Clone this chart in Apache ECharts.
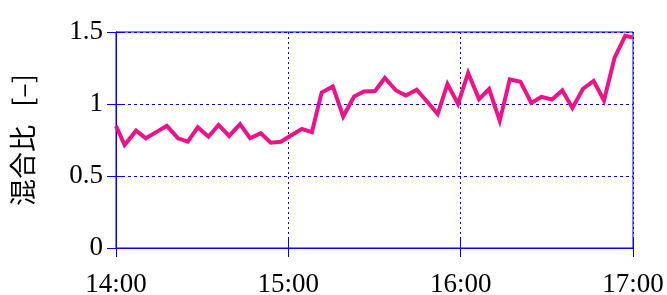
<!DOCTYPE html>
<html>
<head>
	<meta charset="UTF-8">
	<title>混合比</title>
	<script src="https://cdn.jsdelivr.net/npm/echarts@6/dist/echarts.min.js"></script>
	<style>
		html, body { margin: 0; padding: 0; background: #fff; }
		#main { width: 667px; height: 295px; }
	</style>
</head>
<body>
<div id="main"></div>
<script>
	// minutes after 14:00
	var minutes = [0, 3.0, 7.0, 10.4, 14.3, 17.7, 21.6, 25.0, 28.5, 32.2,
		35.7, 39.4, 43.2, 46.7, 50.4, 53.9, 57.4, 61.2, 64.7, 68.2,
		71.6, 75.5, 79.1, 82.9, 86.3, 90.2, 93.6, 97.5, 100.9, 104.7,
		108.3, 112.0, 115.4, 119.1, 122.6, 126.4, 129.9, 133.6, 137.1, 140.8,
		144.6, 148.1, 151.8, 155.4, 158.9, 162.6, 166.3, 169.9, 173.6, 177.3, 180];
	var ratio = [0.848, 0.715, 0.815, 0.762, 0.808, 0.848, 0.762, 0.738, 0.839, 0.773,
		0.855, 0.778, 0.860, 0.762, 0.797, 0.731, 0.738, 0.785, 0.827, 0.804,
		1.080, 1.122, 0.913, 1.052, 1.087, 1.090, 1.181, 1.094, 1.059, 1.099,
		1.017, 0.930, 1.139, 1.001, 1.216, 1.034, 1.104, 0.883, 1.171, 1.155,
		1.008, 1.050, 1.031, 1.094, 0.973, 1.106, 1.160, 1.024, 1.322, 1.474, 1.462];
	var xTickLabels = ['14:00', '15:00', '16:00', '17:00'];
	var yTickLabels = ['0', '0.5', '1', '1.5'];

	var points = [];
	for (var i = 0; i < minutes.length; i++) {
		points.push([minutes[i], ratio[i]]);
	}

	var blue = '#0000ff';
	var serif = 'Liberation Serif';
	var myChart = echarts.init(document.getElementById('main'));

	var option = {
		animation: false,
		backgroundColor: '#fff',
		grid: {
			left: 116, right: 34, top: 32, bottom: 47,
			outerBoundsMode: 'none',
			show: true, borderColor: blue, borderWidth: 1
		},
		xAxis: [{
			type: 'value', min: 0, max: 180, interval: 60,
			axisLine: { lineStyle: { color: blue } },
			axisTick: { inside: true, length: 9, lineStyle: { color: blue } },
			axisLabel: {
				margin: 23, color: '#000', fontFamily: serif, fontSize: 27,
				formatter: function (v) { return xTickLabels[Math.round(v / 60)]; }
			},
			splitLine: { show: true, lineStyle: { color: blue, type: [2, 3] } }
		}, {
			type: 'value', position: 'top', min: 0, max: 180, interval: 60,
			axisLine: { lineStyle: { color: blue } },
			axisTick: { inside: true, length: 9, lineStyle: { color: blue } },
			axisLabel: { show: false },
			splitLine: { show: false }
		}],
		yAxis: [{
			type: 'value', min: 0, max: 1.5, interval: 0.5,
			name: '混合比   [–]', nameLocation: 'middle', nameGap: 80,
			nameTextStyle: { color: '#000', fontFamily: 'Noto Sans CJK JP', fontSize: 27 },
			axisLine: { lineStyle: { color: blue } },
			axisTick: { inside: true, length: 9, lineStyle: { color: blue } },
			axisLabel: {
				margin: 13, color: '#000', fontFamily: serif, fontSize: 27,
				formatter: function (v) { return yTickLabels[Math.round(v / 0.5)]; }
			},
			splitLine: { show: true, lineStyle: { color: blue, type: [3, 3] } }
		}, {
			type: 'value', position: 'right', min: 0, max: 1.5, interval: 0.5,
			axisLine: { lineStyle: { color: blue } },
			axisTick: { inside: true, length: 9, lineStyle: { color: blue } },
			axisLabel: { show: false },
			splitLine: { show: false }
		}],
		series: [{
			type: 'line',
			data: points,
			showSymbol: false,
			lineStyle: { color: '#ee1187', width: 4, join: 'miter' },
			itemStyle: { color: '#ee1187' }
		}]
	};

	myChart.setOption(option);
</script>
</body>
</html>
